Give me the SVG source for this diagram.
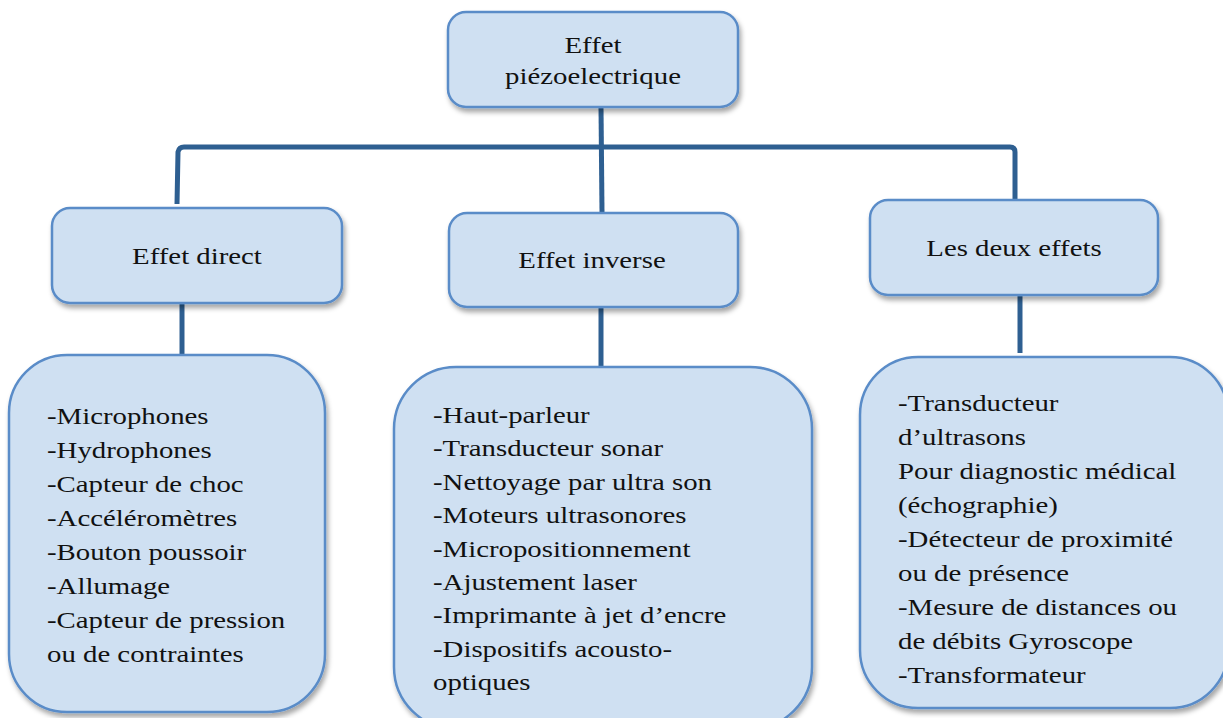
<svg xmlns="http://www.w3.org/2000/svg" width="1223" height="718" viewBox="0 0 1223 718">
<defs>
<filter id="sh" x="-10%" y="-10%" width="125%" height="130%">
<feDropShadow dx="2" dy="4" stdDeviation="2.5" flood-color="#000" flood-opacity="0.35"/>
</filter>
<style>
.box{fill:#cfe0f2;stroke:#5a8cc8;stroke-width:2.5;filter:url(#sh)}
.con{fill:none;stroke:#2e5f91;stroke-width:5;stroke-linejoin:round}
text{font-family:"Liberation Serif","Times New Roman",serif;font-size:24px;fill:#111}
.c{text-anchor:middle}
</style>
</defs>
<rect width="1223" height="718" fill="#fff"/>
<g id="connectors">
<path class="con" d="M601 107 L602 212"/>
<path class="con" d="M177 204 L178 152 Q179 147 184 147 L1010 147 Q1015 147 1015 152 L1015 204"/>
<path class="con" d="M182 297 L182 355"/>
<path class="con" d="M601 308 L601 366"/>
<path class="con" d="M1020 296 L1020 353"/>
</g>
<g id="root">
<rect class="box" x="448" y="12" width="290" height="95" rx="18"/>
<g transform="translate(593,0) scale(1.2,1)"><text class="c" x="0" y="53">Effet</text><text class="c" x="0" y="84">piézoelectrique</text></g>
</g>
<g id="direct">
<rect class="box" x="52" y="208" width="290" height="95" rx="18"/>
<g transform="translate(197,0) scale(1.2,1)"><text class="c" x="0" y="264">Effet direct</text></g>
</g>
<g id="inverse">
<rect class="box" x="449" y="213" width="289" height="94" rx="18"/>
<g transform="translate(592,0) scale(1.2,1)"><text class="c" x="0" y="268">Effet inverse</text></g>
</g>
<g id="deux">
<rect class="box" x="870" y="200" width="288" height="95" rx="18"/>
<g transform="translate(1014,0) scale(1.2,1)"><text class="c" x="0" y="256">Les deux effets</text></g>
</g>
<g id="direct-list">
<rect class="box" x="9" y="355" width="316" height="357" rx="58"/>
<g transform="translate(47,0) scale(1.2,1)"><text x="0" y="424">-Microphones</text><text x="0" y="458">-Hydrophones</text><text x="0" y="492">-Capteur de choc</text><text x="0" y="526">-Accéléromètres</text><text x="0" y="560">-Bouton poussoir</text><text x="0" y="594">-Allumage</text><text x="0" y="628">-Capteur de pression</text><text x="0" y="662">ou de contraintes</text></g>
</g>
<g id="inverse-list">
<rect class="box" x="394" y="367" width="418" height="362" rx="62"/>
<g transform="translate(433,0) scale(1.2,1)"><text x="0" y="423">-Haut-parleur</text><text x="0" y="456.5">-Transducteur sonar</text><text x="0" y="490">-Nettoyage par ultra son</text><text x="0" y="523">-Moteurs ultrasonores</text><text x="0" y="557">-Micropositionnement</text><text x="0" y="590">-Ajustement laser</text><text x="0" y="623">-Imprimante à jet d’encre</text><text x="0" y="657">-Dispositifs acousto-</text><text x="0" y="690">optiques</text></g>
</g>
<g id="deux-list">
<rect class="box" x="860" y="357" width="368" height="351" rx="58"/>
<g transform="translate(898,0) scale(1.2,1)"><text x="0" y="411">-Transducteur</text><text x="0" y="445">d’ultrasons</text><text x="0" y="479">Pour diagnostic médical</text><text x="0" y="513">(échographie)</text><text x="0" y="547">-Détecteur de proximité</text><text x="0" y="581">ou de présence</text><text x="0" y="615">-Mesure de distances ou</text><text x="0" y="649">de débits Gyroscope</text><text x="0" y="683">-Transformateur</text></g>
</g>
</svg>
